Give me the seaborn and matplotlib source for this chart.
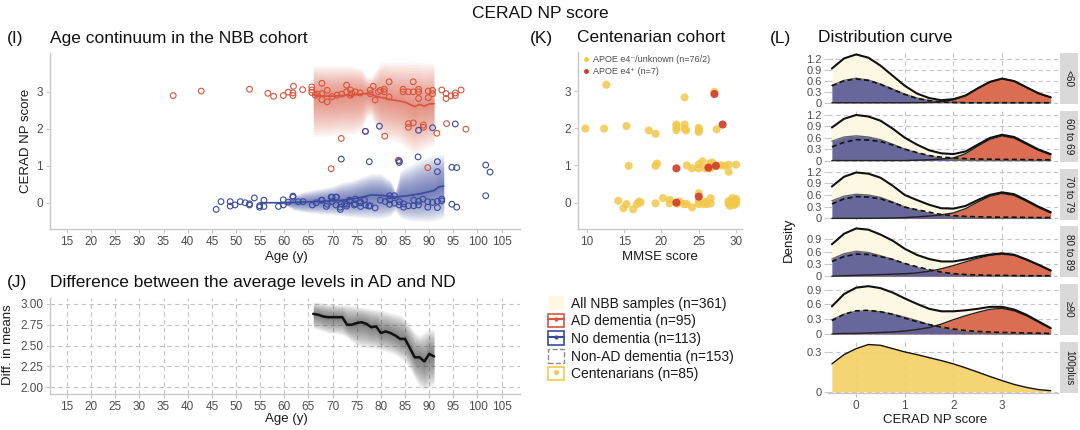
import numpy as np
import pandas as pd
import matplotlib
matplotlib.use("Agg")
import matplotlib.pyplot as plt
import seaborn as sns
from matplotlib.patches import Patch
from matplotlib.lines import Line2D
from matplotlib.legend_handler import HandlerTuple

sns.set_theme(style="white")
plt.rcParams["font.family"] = ["Liberation Sans", "DejaVu Sans"]

# ---------------- data: panel I (scatter) ----------------
ad_age = [37.0, 42.8, 52.8, 56.6, 57.8, 59.8, 60.8, 61.8, 61.8, 61.9, 63.8,
          65.7, 65.7, 65.7, 66.4, 66.8, 67.8, 67.8, 67.8, 68.9, 68.9, 69.9, 70.9, 71.9,
          72.9, 72.9, 73.7, 73.7, 74.0, 74.7, 75.7, 77.8, 77.8, 78.4, 78.8, 79.5, 79.9,
          80.7, 80.7, 81.7, 81.7, 84.6, 84.6, 85.7, 86.7, 86.7, 87.8, 87.8, 87.8, 89.8,
          89.8, 90.7, 90.7, 92.6, 93.5, 93.5, 94.5, 95.4, 95.4, 96.6,
          69.7, 71.8, 76.8, 80.8, 83.6, 85.7, 85.7, 86.7, 88.8, 88.8, 89.7, 91.6, 93.6, 97.6]
ad_score = [2.90, 3.02, 3.07, 2.96, 2.88, 2.90, 2.99, 2.97, 2.90, 3.15, 3.06,
            3.13, 3.05, 2.98, 2.91, 2.94, 3.23, 2.95, 2.79, 3.04, 2.73, 2.87, 2.91, 2.94,
            3.18, 3.00, 3.05, 2.91, 2.95, 3.00, 2.97, 3.05, 2.95, 3.15, 2.78, 3.00, 3.04,
            3.07, 3.00, 3.27, 2.86, 3.07, 3.00, 3.00, 3.27, 3.00, 3.07, 3.00, 2.82, 3.02,
            2.84, 3.04, 2.95, 3.05, 2.95, 2.82, 2.89, 2.97, 2.90, 3.05,
            0.92, 1.74, 1.93, 1.80, 1.15, 2.14, 2.04, 2.16, 2.10, 2.04, 0.95, 1.88, 2.14, 1.99]

nd_age = [45.9, 46.9, 48.8, 48.8, 49.8, 50.9, 51.9, 52.8, 52.8, 53.8, 54.9, 54.9, 55.8, 55.8,
          58.8, 59.8, 59.8, 60.8, 61.8, 61.8, 62.9, 63.9, 65.8, 66.6, 67.7, 68.7, 69.7, 70.7,
          70.7, 71.6, 71.6, 72.5, 73.5, 74.5, 75.6, 76.6, 77.5,
          67.8, 68.9, 69.9, 69.9, 70.8, 71.8, 72.9, 72.9, 73.7, 74.7, 74.7, 75.8, 75.8, 76.8,
          77.8, 78.8, 79.9, 80.9, 81.8, 81.8, 81.8, 82.8, 82.8, 83.8, 83.8, 84.7, 84.7, 85.7,
          86.8, 86.8, 87.8, 87.8, 88.7, 89.7, 89.7, 90.7, 91.7, 91.7, 92.6, 92.6, 94.7, 95.7,
          71.8, 77.6, 76.8, 79.7, 87.8, 90.7, 95.4, 83.8, 83.8, 87.7, 91.7, 91.7, 94.7, 95.7,
          101.7, 102.6, 101.7]
nd_score = [-0.18, 0.03, 0.03, -0.09, -0.06, 0.03, 0.00, -0.03, -0.06, 0.13, -0.08, -0.12, 0.07, -0.10,
            -0.10, 0.08, -0.06, 0.02, 0.18, 0.15, 0.03, 0.03, -0.06, 0.00, 0.07, -0.10, 0.15, 0.15,
            -0.06, -0.18, -0.12, -0.02, 0.07, -0.06, 0.00, 0.07, -0.09,
            0.07, -0.04, 0.15, 0.03, 0.15, -0.03, -0.04, -0.09, 0.05, 0.10, -0.03, 0.01, -0.10, -0.06,
            -0.08, -0.14, 0.07, 0.03, 0.19, 0.08, -0.04, 0.19, -0.01, 0.03, -0.06, -0.03, -0.12, -0.08,
            0.07, -0.08, 0.04, -0.06, 0.10, 0.03, -0.12, 0.01, 0.04, -0.13, 0.10, 0.05, -0.04, -0.12,
            1.18, 1.11, 1.93, 2.07, 1.96, 2.03, 2.13, 1.13, 1.09, 1.24, 1.11, 0.84, 0.96, 0.95,
            1.02, 0.83, 0.19]

# running means and bands (panel I)
red_age = [66, 68, 70, 72, 74, 76, 77, 78, 79, 80, 82, 84, 85, 86, 87, 88, 89, 90, 91]
red_mean = [2.92, 2.89, 2.88, 2.90, 2.91, 2.94, 2.95, 2.93, 2.88, 2.85, 2.79, 2.75, 2.72, 2.66, 2.60, 2.66, 2.61, 2.67, 2.68]
red_hi = [3.70, 3.70, 3.70, 3.70, 3.70, 3.62, 3.40, 3.38, 3.60, 3.80, 3.80, 3.80, 3.80, 3.81, 3.82, 3.80, 3.78, 3.78, 3.78]
red_lo = [1.80, 1.80, 1.82, 1.85, 1.85, 1.95, 2.30, 2.35, 2.05, 1.75, 1.70, 1.62, 1.50, 1.40, 1.32, 1.38, 1.45, 1.52, 1.55]

blue_age = [55, 58, 60, 62, 64, 66, 68, 70, 72, 74, 76, 78, 80, 82, 83, 84, 85, 86, 88, 90, 91, 92, 93]
blue_mean = [0.0, 0.0, 0.0, 0.01, 0.02, 0.03, 0.04, 0.05, 0.07, 0.10, 0.15, 0.21, 0.20, 0.18, 0.15, 0.17, 0.18, 0.20, 0.24, 0.30, 0.33, 0.43, 0.45]
blue_hi = [0.0, 0.0, 0.05, 0.20, 0.30, 0.35, 0.40, 0.45, 0.55, 0.60, 0.70, 0.78, 0.78, 0.60, 0.30, 0.85, 0.95, 1.00, 1.15, 1.25, 1.28, 1.30, 1.30]
blue_lo = [0.0, 0.0, -0.05, -0.20, -0.25, -0.28, -0.30, -0.32, -0.35, -0.38, -0.40, -0.42, -0.42, -0.35, -0.22, -0.40, -0.45, -0.48, -0.50, -0.50, -0.48, -0.45, -0.40]

# ---------------- data: panel J ----------------
j_age = [66, 67, 68, 69, 70, 71, 72, 73, 74, 75, 76, 77, 78, 79, 80, 81, 82, 83, 84, 85, 86, 87, 88, 89, 90, 91]
j_mean = [2.88, 2.87, 2.85, 2.84, 2.84, 2.84, 2.84, 2.75, 2.75, 2.77, 2.78, 2.76, 2.72, 2.73, 2.65, 2.67,
          2.65, 2.62, 2.58, 2.58, 2.47, 2.36, 2.36, 2.31, 2.40, 2.37]
j_hi = [3.02, 3.02, 3.01, 3.00, 3.00, 2.99, 2.99, 2.99, 2.98, 2.97, 2.96, 2.95, 2.94, 2.93, 2.93, 2.91,
        2.89, 2.88, 2.87, 2.82, 2.74, 2.66, 2.62, 2.66, 2.70, 2.69]
j_lo = [2.71, 2.69, 2.67, 2.65, 2.64, 2.64, 2.63, 2.60, 2.55, 2.50, 2.48, 2.48, 2.47, 2.46, 2.45, 2.43,
        2.41, 2.39, 2.35, 2.31, 2.23, 2.11, 2.01, 1.97, 2.00, 2.03]

# ---------------- data: panel K ----------------
cen_mmse = [12.6, 23.1, 27.1, 9.8, 12.3, 15.3, 18.3, 19.2, 22.0, 22.0, 22.0, 23.1, 23.1, 23.3, 25.0, 25.0,
            25.0, 27.4, 15.6, 19.2, 19.4, 23.4, 24.1, 25.0, 25.0, 25.5, 25.9, 26.5, 26.6, 27.4, 28.0, 28.5,
            29.0, 29.0, 30.0, 26.8, 14.2, 14.9, 15.3, 16.2, 16.7, 17.2, 17.0, 19.2, 20.2, 21.1, 21.1, 22.1,
            23.0, 23.4, 24.1, 25.0, 25.0, 25.0, 25.6, 25.9, 26.1, 26.6, 26.6, 29.0, 29.0, 29.2, 29.4, 29.5,
            29.8, 30.0, 30.0, 30.0, 22.4]
cen_cerad = [3.17, 2.83, 2.98, 1.99, 1.99, 2.06, 1.94, 1.85, 2.10, 2.03, 1.95, 2.10, 1.99, 1.94, 2.01, 1.95,
             1.90, 1.97, 0.99, 0.99, 1.05, 1.00, 0.92, 1.03, 0.92, 1.11, 0.92, 1.05, 0.92, 0.99, 1.00, 0.99,
             1.02, 0.83, 1.02, 1.08, 0.05, -0.15, -0.04, -0.18, -0.04, 0.00, 0.03, -0.02, 0.12, 0.07, -0.02, -0.03,
             -0.04, -0.04, -0.13, 0.25, -0.04, 0.03, -0.04, 0.02, -0.04, 0.12, -0.02, 0.04, -0.04, -0.09, 0.01, 0.12,
             -0.06, 0.10, -0.02, 0.05, 0.03]
e4_mmse = [27.1, 28.2, 22.0, 26.3, 27.3, 25.0, 22.0]
e4_cerad = [2.92, 2.10, 0.92, 0.94, 0.99, 0.16, 0.00]

# ---------------- data: panel L (density curves) ----------------
dens_x = [-0.5, -0.25, 0, 0.25, 0.5, 0.75, 1, 1.25, 1.5, 1.75, 2, 2.25, 2.5, 2.75, 3, 3.25, 3.5, 3.75, 4]
age_groups = ["<60", "60 to 69", "70 to 79", "80 to 89", "\u226590"]
dens_nd = {
    "<60":      [0.48, 0.62, 0.68, 0.63, 0.52, 0.38, 0.24, 0.13, 0.06, 0.02, 0.01, 0, 0, 0, 0, 0, 0, 0, 0],
    "60 to 69": [0.51, 0.62, 0.65, 0.62, 0.55, 0.43, 0.30, 0.20, 0.12, 0.06, 0.03, 0.01, 0, 0, 0, 0, 0, 0, 0],
    "70 to 79": [0.45, 0.57, 0.62, 0.60, 0.54, 0.42, 0.29, 0.21, 0.13, 0.07, 0.04, 0.02, 0.01, 0, 0, 0, 0, 0, 0],
    "80 to 89": [0.42, 0.55, 0.61, 0.58, 0.50, 0.41, 0.30, 0.21, 0.14, 0.08, 0.04, 0.02, 0.01, 0, 0, 0, 0, 0, 0],
    "\u226590":  [0.29, 0.40, 0.46, 0.47, 0.45, 0.40, 0.34, 0.27, 0.19, 0.12, 0.07, 0.04, 0.02, 0.01, 0, 0, 0, 0, 0],
}
dens_nonad = {
    "<60":      [0.47, 0.61, 0.66, 0.62, 0.51, 0.37, 0.23, 0.12, 0.06, 0.02, 0.01, 0, 0, 0, 0, 0, 0, 0, 0],
    "60 to 69": [0.36, 0.48, 0.55, 0.54, 0.50, 0.41, 0.30, 0.21, 0.13, 0.09, 0.07, 0.05, 0.04, 0.035, 0.03, 0.03, 0.025, 0.02, 0.02],
    "70 to 79": [0.37, 0.50, 0.56, 0.55, 0.50, 0.41, 0.29, 0.22, 0.16, 0.10, 0.07, 0.05, 0.04, 0.035, 0.03, 0.03, 0.025, 0.02, 0.02],
    "80 to 89": [0.36, 0.48, 0.54, 0.53, 0.48, 0.41, 0.31, 0.23, 0.16, 0.10, 0.06, 0.04, 0.03, 0.02, 0.02, 0.015, 0.01, 0.01, 0.01],
    "\u226590":  [0.27, 0.40, 0.47, 0.48, 0.45, 0.40, 0.32, 0.25, 0.19, 0.14, 0.10, 0.07, 0.05, 0.04, 0.03, 0.025, 0.02, 0.015, 0.01],
}
dens_ad = {
    "<60":      [0, 0, 0, 0, 0, 0, 0, 0.005, 0.01, 0.03, 0.08, 0.20, 0.40, 0.58, 0.67, 0.60, 0.43, 0.26, 0.15],
    "60 to 69": [0, 0, 0, 0, 0, 0, 0, 0.01, 0.02, 0.04, 0.07, 0.18, 0.38, 0.56, 0.65, 0.59, 0.43, 0.27, 0.15],
    "70 to 79": [0, 0, 0, 0, 0.005, 0.01, 0.02, 0.04, 0.06, 0.09, 0.14, 0.25, 0.42, 0.57, 0.64, 0.59, 0.44, 0.28, 0.14],
    "80 to 89": [0, 0.01, 0.02, 0.03, 0.04, 0.05, 0.06, 0.08, 0.12, 0.18, 0.26, 0.35, 0.44, 0.51, 0.54, 0.51, 0.40, 0.27, 0.13],
    "\u226590":  [0, 0.01, 0.01, 0.02, 0.03, 0.04, 0.06, 0.09, 0.13, 0.20, 0.29, 0.37, 0.44, 0.50, 0.52, 0.47, 0.37, 0.24, 0.11],
}
dens_cen = [0.21, 0.28, 0.325, 0.356, 0.35, 0.325, 0.30, 0.28, 0.257, 0.235, 0.21, 0.18, 0.148, 0.115, 0.084, 0.055, 0.033, 0.016, 0.008]
l_ytop = [1.38, 1.31, 1.28, 1.22, 1.01, 0.375]
l_ticks = [[0, 0.3, 0.6, 0.9, 1.2]] * 3 + [[0, 0.3, 0.6, 0.9]] * 2 + [[0, 0.3]]

legend_labels = ["All NBB samples (n=361)", "AD dementia (n=95)", "No dementia (n=113)",
                 "Non-AD dementia (n=153)", "Centenarians (n=85)"]

# ---------------- colours ----------------
RED = "#D9543C"
BLUE = "#3A4A9E"
CREAM = "#FDF8E4"
LRED = "#D8664A"
LBLUE = "#5F5F97"
YEL = "#F2C84B"
LYEL = "#F4D26B"
KRED = "#CF3B2A"
SPINE = "#C8C8C8"
TXT = "#4D4D4D"
GRID = "#C4C4C4"

W, H = 1080, 430
fig = plt.figure(figsize=(W / 100, H / 100), dpi=100)


def add_ax(x0, y0, x1, y1):
    return fig.add_axes([x0 / W, 1 - y1 / H, (x1 - x0) / W, (y1 - y0) / H])


def style(ax, grid=False, size=8):
    ax.set_facecolor("white")
    for s in ["top", "right"]:
        ax.spines[s].set_visible(False)
    for s in ["left", "bottom"]:
        ax.spines[s].set_color(SPINE)
        ax.spines[s].set_linewidth(1.0)
    ax.tick_params(axis="both", colors=SPINE, labelcolor=TXT, labelsize=size,
                   length=3, width=0.8, pad=2, left=True, bottom=True)
    if grid:
        ax.grid(True, ls=(0, (4, 3)), color=GRID, lw=0.8)
        ax.set_axisbelow(True)
    else:
        ax.grid(False)
    ax.set_xlabel("")
    ax.set_ylabel("")


def gradient_band(ax, x, mid, lo, hi, color, n=16, alpha=0.06):
    x = np.asarray(x, float)
    mid = np.asarray(mid, float)
    lo = np.asarray(lo, float)
    hi = np.asarray(hi, float)
    for k in range(1, n + 1):
        f = k / n
        ax.fill_between(x, mid - (mid - lo) * f, mid + (hi - mid) * f,
                        color=color, alpha=alpha, lw=0, zorder=1)


age_ticks = list(range(15, 110, 5))

# ================= Panel I =================
axI = add_ax(50, 53, 520, 229)
gradient_band(axI, red_age, red_mean, red_lo, red_hi, RED, n=16, alpha=0.055)
gradient_band(axI, blue_age, blue_mean, blue_lo, blue_hi, BLUE, n=16, alpha=0.065)
dfa = pd.DataFrame({"age": ad_age, "score": ad_score})
dfn = pd.DataFrame({"age": nd_age, "score": nd_score})
sns.scatterplot(data=dfa, x="age", y="score", ax=axI, s=17, facecolors="none",
                edgecolor=RED, linewidth=0.8, zorder=3)
sns.scatterplot(data=dfn, x="age", y="score", ax=axI, s=17, facecolors="none",
                edgecolor=BLUE, linewidth=0.8, zorder=3)
sns.lineplot(x=red_age, y=red_mean, ax=axI, color=RED, linewidth=1.2, zorder=4)
sns.lineplot(x=blue_age, y=blue_mean, ax=axI, color=BLUE, linewidth=1.2, zorder=4)
axI.set_xlim(11.5, 108.8)
axI.set_ylim(-0.71, 4.05)
axI.set_xticks(age_ticks)
axI.set_yticks([0, 1, 2, 3])
style(axI)
axI.tick_params(axis="x", labelsize=8.5)
axI.tick_params(axis="y", labelsize=8.5)

# ================= Panel J =================
axJ = add_ax(50, 298, 520, 394)
gradient_band(axJ, j_age, j_mean, j_lo, j_hi, "#444444", n=14, alpha=0.07)
sns.lineplot(x=j_age, y=j_mean, ax=axJ, color="#111111", linewidth=1.8, zorder=4)
axJ.set_xlim(11.5, 108.8)
axJ.set_ylim(1.92, 3.07)
axJ.set_xticks(age_ticks)
axJ.set_yticks([2.0, 2.25, 2.5, 2.75, 3.0])
axJ.set_yticklabels(["2.00", "2.25", "2.50", "2.75", "3.00"])
style(axJ, grid=True)
axJ.tick_params(axis="x", labelsize=8.5)
axJ.tick_params(axis="y", labelsize=8.5)

# ================= Panel K =================
axK = add_ax(578, 52, 742, 229)
sns.scatterplot(x=cen_mmse, y=cen_cerad, ax=axK, color=YEL, s=34, alpha=0.85,
                edgecolor="none", zorder=3)
sns.scatterplot(x=e4_mmse, y=e4_cerad, ax=axK, color=KRED, s=34, alpha=0.9,
                edgecolor="none", zorder=4)
axK.set_xlim(8.8, 30.8)
axK.set_ylim(-0.71, 4.05)
axK.set_xticks([10, 15, 20, 25, 30])
axK.set_yticks([0, 1, 2, 3])
style(axK)
axK.tick_params(axis="x", labelsize=8.5)
axK.tick_params(axis="y", labelsize=8.5)
k_handles = [Line2D([0], [0], marker="o", ls="", color=YEL, ms=3.5, mec="none"),
             Line2D([0], [0], marker="o", ls="", color=KRED, ms=3.5, mec="none")]
legK = axK.legend(k_handles, ["APOE e4\u207b/unknown (n=76/2)", "APOE e4\u207a (n=7)"],
                  loc="upper left", frameon=False, fontsize=6.5, handletextpad=0.3,
                  borderaxespad=0.15, labelspacing=0.35, handlelength=1.0,
                  borderpad=0.2)
for t in legK.get_texts():
    t.set_color(TXT)

# ================= Panel L =================
row_top = [53, 110.8, 168.6, 226.4, 284.2, 342]
row_h = 51
strip_names = age_groups + ["100plus"]
for i in range(6):
    y0 = row_top[i]
    ax = add_ax(828, y0, 1058, y0 + row_h)
    if i < 5:
        g = age_groups[i]
        nd = np.array(dens_nd[g])
        na = np.array(dens_nonad[g])
        ad = np.array(dens_ad[g])
        tot = nd + na + ad
        ax.fill_between(dens_x, 0, tot, color=CREAM, lw=0, zorder=1)
        ax.fill_between(dens_x, 0, ad, color=LRED, lw=0, alpha=0.95, zorder=2)
        ax.fill_between(dens_x, 0, nd, color=LBLUE, lw=0, alpha=0.95, zorder=3)
        sns.lineplot(x=dens_x, y=nd, ax=ax, color="#666666", linewidth=1.0, zorder=4)
        sns.lineplot(x=dens_x, y=ad, ax=ax, color="#222222", linewidth=1.0, zorder=4)
        sns.lineplot(x=dens_x, y=na, ax=ax, color="#111111", linewidth=1.2,
                     linestyle=(0, (3, 2)), zorder=5)
        sns.lineplot(x=dens_x, y=tot, ax=ax, color="#111111", linewidth=1.5, zorder=6)
    else:
        cen = np.array(dens_cen)
        ax.fill_between(dens_x, 0, cen, color=LYEL, lw=0, alpha=0.95, zorder=1)
        sns.lineplot(x=dens_x, y=cen, ax=ax, color="#111111", linewidth=1.0, zorder=4)
    ax.set_xlim(-0.58, 4.15)
    ax.set_ylim(-0.025 * l_ytop[i], l_ytop[i])
    ax.set_yticks(l_ticks[i])
    ax.set_yticklabels([("0" if v == 0 else f"{v:.1f}") for v in l_ticks[i]])
    ax.set_xticks([0, 1, 2, 3])
    style(ax, grid=True, size=8)
    ax.spines["left"].set_visible(False)
    ax.spines["bottom"].set_visible(i == 5)
    if i < 5:
        ax.set_xticklabels([])
        ax.tick_params(axis="x", length=0)
    else:
        ax.tick_params(axis="x", labelsize=8.5)
    ax.tick_params(axis="y", pad=1.5)
    # strip
    sax = add_ax(1060, y0, 1078, y0 + row_h)
    sax.set_facecolor("#D9D9D9")
    for s in sax.spines.values():
        s.set_visible(False)
    sax.set_xticks([])
    sax.set_yticks([])
    sax.text(0.5, 0.5, strip_names[i], rotation=270, ha="center", va="center",
             fontsize=7.2, color="#1A1A1A", transform=sax.transAxes)

# ================= Legend =================
handles = [
    Patch(facecolor=CREAM, edgecolor="none"),
    (Patch(facecolor="white", edgecolor=RED, lw=1.2), Line2D([0], [0], color=RED, lw=1.5, marker="o", ms=2)),
    (Patch(facecolor="white", edgecolor=BLUE, lw=1.2), Line2D([0], [0], color=BLUE, lw=1.5, marker="o", ms=2)),
    Patch(facecolor="white", edgecolor="#8A8A8A", lw=1.0, linestyle="--"),
    (Patch(facecolor="white", edgecolor=YEL, lw=1.2), Line2D([0], [0], color=YEL, ls="", marker="o", ms=2.5)),
]
leg = fig.legend(handles, legend_labels, loc="upper left", bbox_to_anchor=(548 / W, 1 - 296 / H),
                 frameon=False, fontsize=10, handlelength=1.15, handleheight=1.15,
                 labelspacing=0.22, handletextpad=0.5, borderaxespad=0, borderpad=0,
                 handler_map={tuple: HandlerTuple(ndivide=1, pad=0)})
for t in leg.get_texts():
    t.set_color("#1A1A1A")

# ================= Titles & labels =================
TS = 12.5
fig.text(540 / W, 1 - 13 / H, "CERAD NP score", ha="center", va="center", fontsize=TS, color="#111111")
fig.text(7 / W, 1 - 38 / H, "(I)", ha="left", va="center", fontsize=TS, color="#111111")
fig.text(50 / W, 1 - 38 / H, "Age continuum in the NBB cohort", ha="left", va="center", fontsize=TS, color="#111111")
fig.text(7 / W, 1 - 283 / H, "(J)", ha="left", va="center", fontsize=TS, color="#111111")
fig.text(50 / W, 1 - 283 / H, "Difference between the average levels in AD and ND", ha="left", va="center",
         fontsize=TS, color="#111111")
fig.text(530 / W, 1 - 38 / H, "(K)", ha="left", va="center", fontsize=TS, color="#111111")
fig.text(577 / W, 1 - 38 / H, "Centenarian cohort", ha="left", va="center", fontsize=TS, color="#111111")
fig.text(770 / W, 1 - 38 / H, "(L)", ha="left", va="center", fontsize=TS, color="#111111")
fig.text(818 / W, 1 - 38 / H, "Distribution curve", ha="left", va="center", fontsize=TS, color="#111111")

LS = 9.5
fig.text(286 / W, 1 - 257 / H, "Age (y)", ha="center", va="center", fontsize=LS, color="#1A1A1A")
fig.text(286 / W, 1 - 419 / H, "Age (y)", ha="center", va="center", fontsize=LS, color="#1A1A1A")
fig.text(660 / W, 1 - 257 / H, "MMSE score", ha="center", va="center", fontsize=LS, color="#1A1A1A")
fig.text(935 / W, 1 - 420 / H, "CERAD NP score", ha="center", va="center", fontsize=LS, color="#1A1A1A")
fig.text(26 / W, 1 - 141 / H, "CERAD NP score", ha="center", va="center", rotation=90, fontsize=LS, color="#1A1A1A")
fig.text(8 / W, 1 - 345 / H, "Diff. in means", ha="center", va="center", rotation=90, fontsize=LS, color="#1A1A1A")
fig.text(789 / W, 1 - 240 / H, "Density", ha="center", va="center", rotation=90, fontsize=LS, color="#1A1A1A")

fig.savefig("out.png", dpi=100)
